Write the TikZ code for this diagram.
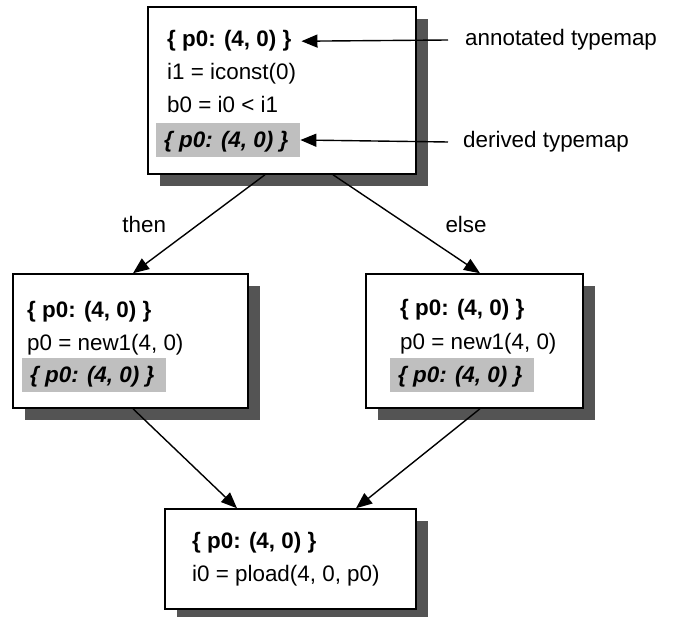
\documentclass[tikz,border=0pt]{standalone}
\usepackage{fontspec}
\setmainfont{Liberation Sans}
\usetikzlibrary{arrows.meta,shadows}

\begin{document}
\begin{tikzpicture}[x=1pt,y=-1pt,
    font=\fontsize{22.4}{27}\selectfont,
    block/.style={draw,line width=1.5pt,fill=white,inner sep=0pt,
      drop shadow={shadow xshift=12pt,shadow yshift=-12pt,fill=black!67,opacity=1}},
    line/.style={anchor=base west,inner sep=0pt},
    typemap/.style={line,font=\fontsize{22.4}{27}\selectfont\bfseries},
    derived/.style={anchor=base west,fill=black!25,inner xsep=8pt,inner ysep=4pt,
      text height=21pt,text depth=5pt,
      font=\fontsize{22.4}{27}\selectfont\bfseries\itshape},
    flow/.style={-{Triangle[length=16pt,width=13pt]},line width=1.4pt}]
  \useasboundingbox (0,0) rectangle (673,617);
  % blocks
  \node[block,minimum width=268pt,minimum height=167pt] (entry) at (282,90.5) {};
  \node[block,minimum width=235pt,minimum height=134pt] (thenblk) at (130.5,341) {};
  \node[block,minimum width=217pt,minimum height=134pt] (elseblk) at (474.5,341) {};
  \node[block,minimum width=251pt,minimum height=100pt] (join) at (290.5,559) {};
  % entry block
  \node[typemap] (e-ann) at (167,47) {\{ p0: (4, 0) \}};
  \node[line] (e-l1) at (167,80) {i1 = iconst(0)};
  \node[line] (e-l2) at (167,113) {b0 = i0 < i1};
  \node[derived] (e-der) at (156,148) {\makebox[128pt][l]{\{ p0: (4, 0) \}}};
  % then block
  \node[typemap] (t-ann) at (27,318) {\{ p0: (4, 0) \}};
  \node[line] (t-l1) at (27,351) {p0 = new1(4, 0)};
  \node[derived] (t-der) at (22,383) {\makebox[128pt][l]{\{ p0: (4, 0) \}}};
  % else block
  \node[typemap] (s-ann) at (400,316) {\{ p0: (4, 0) \}};
  \node[line] (s-l1) at (400,350) {p0 = new1(4, 0)};
  \node[derived] (s-der) at (390,383) {\makebox[128pt][l]{\{ p0: (4, 0) \}}};
  % join block
  \node[typemap] (j-ann) at (192,549) {\{ p0: (4, 0) \}};
  \node[line] (j-l1) at (192,582) {i0 = pload(4, 0, p0)};
  % notes
  \node[anchor=west,inner xsep=17pt,inner ysep=0pt] (annot) at (448,40) {annotated typemap};
  \node[anchor=west,inner xsep=15pt,inner ysep=0pt] (deriv) at (448,142) {derived typemap};
  \draw[flow] (annot.west) -- ([xshift=10pt]e-ann.east);
  \draw[flow] (deriv.west) -- (e-der.east);
  % control flow
  \draw[flow] ([xshift=-17pt]entry.south) -- node[left=29pt] (thenlbl) {then} ([xshift=2.5pt]thenblk.north);
  \draw[flow] ([xshift=51pt]entry.south) -- node[right=35pt] (elselbl) {else} ([xshift=5.5pt]elseblk.north);
  \draw[flow] ([xshift=2.5pt]thenblk.south) -- ([xshift=-53.5pt]join.north);
  \draw[flow] ([xshift=5.5pt]elseblk.south) -- ([xshift=65.5pt]join.north);
\end{tikzpicture}
\end{document}
